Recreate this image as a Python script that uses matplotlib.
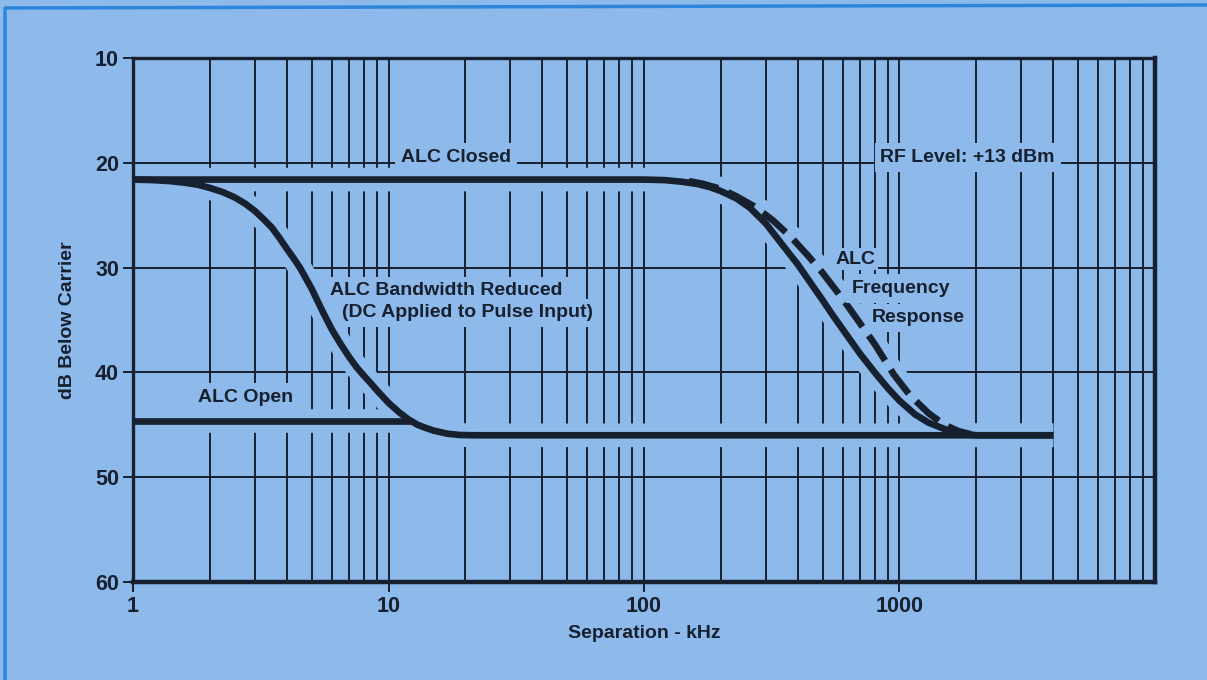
import matplotlib

matplotlib.use("Agg")
import matplotlib.pyplot as plt
from matplotlib.lines import Line2D
from matplotlib.ticker import FixedLocator, LogLocator, NullFormatter

# colours
BG = "#8dbaea"
INK = "#17202f"
FRAME = "#2d86dc"

# ALC closed (solid) - dB below carrier vs separation in kHz
closed_x = [1, 100, 120, 140, 160, 180, 200, 230, 260, 300, 350, 400, 450, 500,
            550, 600, 700, 800, 900, 1000, 1150, 1300, 1500, 1700, 2000, 4000]
closed_y = [21.6, 21.6, 21.65, 21.8, 22.0, 22.3, 22.7, 23.4, 24.3, 25.8, 27.9, 29.7,
            31.5, 33.1, 34.6, 35.9, 38.2, 40.0, 41.5, 42.7, 44.0, 44.8, 45.4, 45.8,
            46.0, 46.0]

# ALC frequency response (dashed)
freq_x = [150, 170, 200, 230, 272, 320, 380, 440, 500, 600, 700, 800, 950, 1100,
          1300, 1500, 1700, 1900]
freq_y = [21.75, 22.0, 22.5, 23.2, 24.2, 25.5, 27.2, 28.9, 30.5, 33.0, 35.3, 37.3,
          40.2, 42.2, 43.9, 45.0, 45.6, 45.9]

# ALC bandwidth reduced (joins the common 46 dB floor)
bw_x = [1, 1.2, 1.4, 1.6, 1.8, 2.0, 2.25, 2.5, 2.75, 3.0, 3.25, 3.5, 3.75, 4.0,
        4.25, 4.5, 5, 5.5, 6, 6.5, 7, 7.5, 8, 8.5, 9, 10, 11, 12, 13, 14, 15, 17,
        19, 22, 4000]
bw_y = [21.6, 21.65, 21.75, 21.9, 22.1, 22.4, 22.8, 23.3, 23.9, 24.6, 25.4, 26.2,
        27.2, 28.2, 29.1, 30.0, 32.0, 34.1, 35.9, 37.3, 38.5, 39.5, 40.3, 41.0,
        41.7, 42.9, 43.8, 44.5, 45.0, 45.3, 45.55, 45.85, 45.97, 46.0, 46.0]

# ALC open
open_x = [1, 12.5]
open_y = [44.6, 44.6]

x_major = [1, 10, 100, 1000]
x_major_labels = ["1", "10", "100", "1000"]
y_ticks = [10, 20, 30, 40, 50, 60]

plt.rcParams["font.family"] = ["Liberation Sans", "DejaVu Sans"]
plt.rcParams["font.weight"] = "bold"

fig = plt.figure(figsize=(12.07, 6.8), dpi=100, facecolor=BG)
ax = fig.add_axes([0.1102, 0.1441, 0.8467, 0.7706], facecolor=BG)

ax.set_xscale("log")
ax.set_xlim(1, 10000)
ax.set_ylim(60, 10)

ax.xaxis.set_major_locator(FixedLocator(x_major))
ax.set_xticklabels(x_major_labels)
ax.xaxis.set_minor_locator(LogLocator(base=10, subs=range(2, 10)))
ax.xaxis.set_minor_formatter(NullFormatter())
ax.set_yticks(y_ticks)

ax.set_axisbelow(True)
ax.grid(True, which="both", axis="x", color=INK, lw=1.4)
ax.grid(True, which="major", axis="y", color=INK, lw=1.4)

ax.tick_params(axis="both", which="major", direction="out", length=7, width=1.4,
               color=INK, labelcolor=INK, labelsize=15.5, pad=3)
ax.tick_params(axis="x", which="minor", length=0)
for side, w in (("left", 2.4), ("top", 2.4), ("right", 3.2), ("bottom", 3.2)):
    ax.spines[side].set_linewidth(w)
    ax.spines[side].set_color(INK)

# curves: wide background halo first so the grid breaks around them
curves = [(closed_x, closed_y, "-"), (bw_x, bw_y, "-"), (open_x, open_y, "-"),
          (freq_x, freq_y, (0, (4.5, 1.6)))]
for cx, cy, _ in curves:
    ax.plot(cx, cy, color=BG, lw=17, solid_capstyle="butt", solid_joinstyle="round",
            zorder=2)
for cx, cy, ls in curves:
    ax.plot(cx, cy, color=INK, lw=4.8, ls=ls, solid_capstyle="butt",
            solid_joinstyle="round", dash_capstyle="butt", zorder=3)

box = dict(facecolor=BG, edgecolor="none", pad=4)
txt = dict(color=INK, fontsize=14, fontweight="bold", zorder=4, va="center")
ax.text(18.4, 19.5, "ALC Closed", ha="center", bbox=box, **txt)
ax.text(1850, 19.5, "RF Level: +13 dBm", ha="center", bbox=box, **txt)
ax.text(5.9, 32.2, "ALC Bandwidth Reduced", ha="left", bbox=box, **txt)
ax.text(6.6, 34.3, "(DC Applied to Pulse Input)", ha="left", bbox=box, **txt)
ax.text(1.8, 42.4, "ALC Open", ha="left", bbox=box, **txt)
ax.text(560, 29.2, "ALC", ha="left", bbox=dict(facecolor=BG, edgecolor="none", pad=2), **txt)
ax.text(650, 32.0, "Frequency", ha="left", bbox=box, **txt)
ax.text(780, 34.8, "Response", ha="left", bbox=box, **txt)

ax.set_xlabel("Separation - kHz", fontsize=14, fontweight="bold", color=INK, labelpad=6)
ax.set_ylabel("dB Below Carrier", fontsize=14, fontweight="bold", color=INK, labelpad=14)

# partial page frame in the top-left corner
fig.add_artist(Line2D([5 / 1207, 5 / 1207, 1.0], [0.0, 1 - 8 / 680, 1 - 5 / 680],
                      transform=fig.transFigure, color=FRAME, lw=2.5))

fig.savefig("out.png", dpi=100, facecolor=BG)
